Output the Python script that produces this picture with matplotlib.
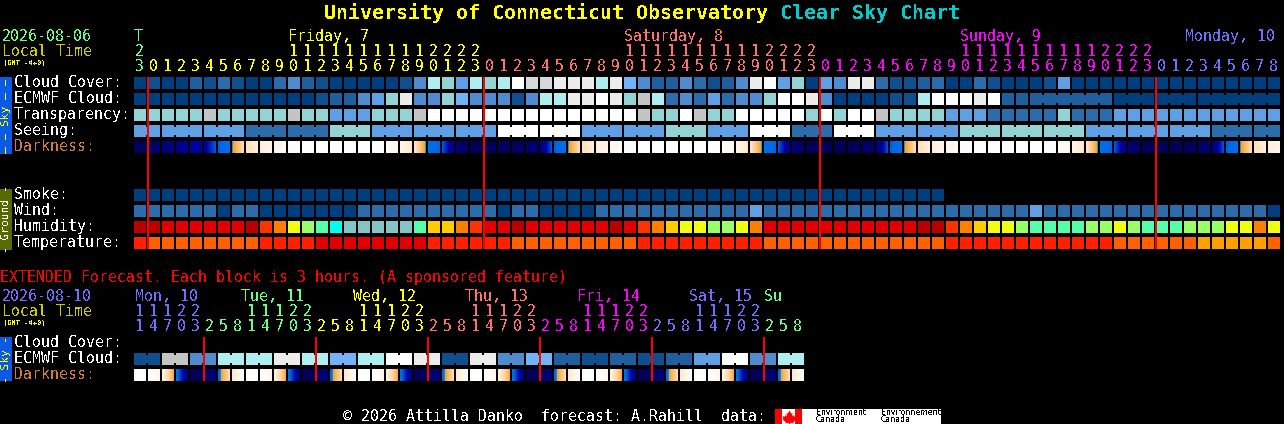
import matplotlib
matplotlib.use('Agg')
import matplotlib.pyplot as plt
from matplotlib.colors import LinearSegmentedColormap
from matplotlib.patches import Rectangle

plt.rcParams['font.family'] = ['DejaVu Sans Mono']
plt.rcParams['text.antialiased'] = False

# main forecast, one value per hour block
cloud = [0, 1, 0, 0, 2, 1, 3, 1, 0, 0, 3, 4, 2, 1, 0, 0, 0, 0, 0, 1, 4, 8,
         7, 5, 8, 7, 8, 12, 10, 10, 11, 11, 11, 8, 11, 6, 4, 2, 2, 4, 3, 1, 2, 4, 11, 12, 5, 7, 0, 5, 4, 11,
         11, 3, 1, 1, 2, 3, 0, 0, 3, 1, 0, 0, 0, 1, 5,
         0, 0, 0, 0, 0, 0, 0, 0, 0, 0, 0, 0, 0, 0, 0]
ecmwf = [0, 0, 0, 0, 0, 0, 0, 0, 0, 0, 0, 0, 0, 1, 2, 2, 4, 5, 7, 11, 4, 4,
         7, 6, 4, 4, 4, 1, 4, 8, 8, 11, 11, 12, 11, 7, 9, 8, 3, 4, 3, 5, 3, 4, 4, 7, 12, 12, 11, 4, 0, 0,
         0, 0, 1, 1, 8, 12, 12, 12, 11, 12, 2, 2,
         2, 2, 2, 2, 2, 2, 0, 0, 0, 0, 0, 0, 0, 0, 0, 0, 0, 0]
transparency = [7, 7, 7, 7, 7, 9, 7, 7, 7, 7, 7, 9, 7, 7, 5, 5, 5, 7, 7, 7, 9, 12,
                12, 12, 12, 12, 12, 12, 12, 12, 12, 12, 12, 12, 12, 12, 9, 7, 7, 12, 9, 7, 7, 12, 12, 12, 12, 12, 7, 12, 7, 12,
                12, 9, 7, 7, 7, 7, 5, 5, 5, 3, 3, 3, 3, 3, 7, 3, 3, 3,
                5, 5, 5, 5, 5, 5, 5, 5, 5, 5, 5, 5]
seeing = [5, 5, 5, 5, 5, 5, 5, 5, 3, 3, 3, 3, 3, 3, 7, 7, 7, 5, 5, 5, 5, 5, 5,
          5, 5, 5, 12, 12, 12, 12, 12, 12, 5, 5, 5, 5, 5, 5, 7, 7, 7, 5, 5, 5, 12, 12, 12, 3, 3, 3, 12, 12, 12,
          5, 5, 5, 5, 5, 5, 7, 7, 7, 7, 7, 7, 7, 7, 7, 5, 5, 5, 5, 5, 5, 5, 5, 5, 3, 3, 3, 3, 3]
smoke = [0] * 58
wind = [3, 3, 3, 3, 3, 3, 0, 3, 3, 0, 0, 0, 0, 0, 0, 0, 3, 3, 3, 3, 3, 3,
        3, 3, 3, 3, 0, 3, 3, 0, 0, 0, 0, 3, 3, 3, 3, 3, 3, 3, 3, 3, 3, 3, 5, 3, 3, 3, 3, 3, 3, 3,
        3, 3, 3, 3, 3, 3, 3, 3, 3, 3, 3, 3, 5, 3, 3, 3, 3, 3, 3, 3, 3, 3, 3, 3, 3, 3, 3, 3, 3, 0]
humidity = [0, 0, 1, 1, 1, 1, 1, 1, 0, 2, 3, 5, 6, 7, 8, 9, 9, 9, 9, 9, 7, 4,
            4, 3, 2, 1, 1, 0, 1, 1, 1, 1, 1, 1, 0, 1, 2, 3, 4, 5, 5, 6, 6, 5, 3, 1, 1, 1, 1, 1, 1, 1,
            1, 1, 1, 1, 0, 0, 2, 3, 4, 5, 5, 6, 7, 7, 7, 7, 6, 6, 5, 6, 7, 7, 7, 6, 6, 6, 5, 5, 3, 5]
temperature = [1, 2, 2, 2, 2, 2, 2, 2, 2, 1, 1, 1, 1, 0, 0, 0, 0, 0, 0, 0, 0, 1,
               1, 1, 1, 1, 1, 2, 2, 2, 2, 2, 2, 2, 2, 2, 1, 1, 1, 1, 1, 1, 1, 1, 1, 2, 2, 2, 2, 2, 2, 2,
               2, 2, 2, 2, 2, 2, 1, 1, 1, 1, 1, 1, 1, 1, 1, 1, 1, 1, 2, 2, 2, 2, 2, 2, 3, 3, 3, 3, 3, 2]
# darkness at block edges, 0 = daylight, 1 = darkest
darkness = [0.96, 0.94, 0.9, 0.84, 0.76, 0.76, 0.58, 0.5, 0.25, 0.15, 0.1, 0.05, 0, 0, 0, 0, 0, 0, 0.03, 0.1, 0.2, 0.5, 0.57, 0.85,
            0.96, 0.98, 0.97, 0.96, 0.93, 0.88, 0.58, 0.5, 0.25, 0.15, 0.1, 0.05, 0, 0, 0, 0, 0, 0, 0.03, 0.1, 0.2, 0.5, 0.57, 0.85,
            0.96, 0.98, 0.99, 0.97, 0.95, 0.92, 0.58, 0.5, 0.25, 0.15, 0.1, 0.05, 0, 0, 0, 0, 0, 0, 0.03, 0.1, 0.2, 0.5, 0.57, 0.85,
            0.96, 0.98, 0.98, 0.97, 0.95, 0.9, 0.58, 0.5, 0.25, 0.15, 0.1]

seeing_links = [(0, 1), (2, 4), (5, 7), (8, 10), (11, 13), (14, 16), (17, 19), (20, 22), (23, 25), (26, 28),
                (29, 31), (32, 34), (35, 37), (38, 40), (41, 43), (44, 46), (47, 49), (50, 52), (53, 55),
                (56, 58), (59, 61), (62, 64), (65, 67), (68, 70), (71, 73), (74, 76), (77, 79), (80, 81)]
ecmwf_links = [(64, 69), (70, 72), (73, 75), (76, 81)]

# extended forecast
ext_ecmwf = [1, 9, 4, 8, 8, 11, 8, 6, 8, 12, 11, 1, 11, 4, 6, 2, 1, 2, 1, 2, 5, 12, 4, 8]
ext_dark_start = [0, 0, 0.1, 0.5, 0.96, 0.92, 0.56, 0.2] * 6
ext_dark_end = [0, 0.1, 0.46, 0.86, 0.96, 0.88, 0.25, 0.03] * 6

# header labels
hours = [23] + list(range(24)) * 3 + list(range(9))
hour_days = [0] + [1] * 24 + [2] * 24 + [3] * 24 + [4] * 9
day_names = [('T', 0), ('Friday, 7', 11), ('Saturday, 8', 35), ('Sunday, 9', 59)]
ext_hours = [11, 14, 17, 20, 23] + [2, 5, 8, 11, 14, 17, 20, 23] * 5 + [2, 5, 8]
ext_days = [4] * 5 + [0] * 8 + [1] * 8 + [2] * 8 + [3] * 8 + [4] * 8 + [0] * 3
ext_names = [('Mon, 10', 135, 4), ('Tue, 11', 241, 0), ('Wed, 12', 353, 1), ('Thu, 13', 465, 2),
             ('Fri, 14', 577, 3), ('Sat, 15', 689, 4), ('Su', 764, 0)]

cloud_colors = ['#003f7f', '#0f4f8f', '#1f5f9f', '#2c6cab', '#4e8ccf', '#5f9fe3', '#72b2f8', '#93d3d3',
                '#aeeeee', '#c4c4c4', '#d8d8d8', '#ececec', '#ffffff']
humidity_colors = ['#b80000', '#e00000', '#ff3300', '#ff8000', '#ffcc00', '#eeff11', '#99ff66', '#55ffaa',
                   '#00ffee', '#84c4c4']
temp_colors = ['#e00000', '#ff2000', '#ff6000', '#ffa000']
day_colors = ['#66ff88', '#ffff00', '#ff7070', '#ff00ff', '#7070ff']
dark_cmap = LinearSegmentedColormap.from_list('dark', [
    (0, '#ffffff'), (0.1, '#fff6ea'), (0.25, '#ffe0b8'), (0.4, '#ffb860'), (0.47, '#ffa020'),
    (0.485, '#00b4f0'), (0.5, '#0070ec'), (0.56, '#0068e6'), (0.72, '#0000a8'), (0.85, '#000080'),
    (1, '#000050')], N=512)

LEFT = 134
PITCH = 14
SIZE = 12
MONO = 10.7
LEAF = [(0, 1), (0.25, 0.55), (0.45, 0.65), (0.35, 0.15), (0.6, 0.35), (0.7, 0.1), (1, 0.2), (0.9, -0.2), (1, -0.3),
        (0.55, -0.65), (0.6, -0.85), (0.08, -0.75), (0.08, -1), (-0.08, -1), (-0.08, -0.75), (-0.6, -0.85),
        (-0.55, -0.65), (-1, -0.3), (-0.9, -0.2), (-1, 0.2), (-0.7, 0.1), (-0.6, 0.35), (-0.35, 0.15), (-0.45, 0.65),
        (-0.25, 0.55)]


def block(ax, col, y, color):
    ax.add_patch(Rectangle((LEFT + col * PITCH, y), SIZE, SIZE, fc=color, lw=0, antialiased=False))


def row(ax, values, y, palette, links=()):
    for i, v in enumerate(values):
        block(ax, i, y, palette[v])
    for a, b in links:
        for i in range(a, b):
            ax.add_patch(Rectangle((LEFT + i * PITCH + SIZE, y + 2), PITCH - SIZE, SIZE - 4,
                                   fc=palette[values[i]], lw=0, antialiased=False))


def fade(ax, col, y, start, end):
    grad = [[start + (end - start) * (k + 0.5) / SIZE for k in range(SIZE)]]
    x = LEFT + col * PITCH
    ax.imshow(grad, cmap=dark_cmap, vmin=0, vmax=1, extent=(x, x + SIZE, y + SIZE, y),
              aspect='auto', interpolation='nearest', zorder=2)


def label(ax, x, y, s, color='white', size=MONO, **kw):
    # text sits a little high with va=center
    ax.text(x, y + 1.2, s, color=color, fontsize=size, va='center', ha=kw.pop('ha', 'left'), zorder=5, **kw)


fig = plt.figure(figsize=(12.84, 4.24), dpi=100, facecolor='black')
ax = fig.add_axes([0, 0, 1, 1])
ax.set_facecolor('black')
ax.set_axis_off()

# title
label(ax, 324, 12, 'University of Connecticut Observatory', '#ffff00', 14.4, fontweight='bold')
label(ax, 780, 12, 'Clear Sky Chart', '#00cccc', 14.4, fontweight='bold')

# main header
label(ax, 2, 35, '2026-08-06', day_colors[0])
label(ax, 2, 50, 'Local Time', '#cccc00')
label(ax, 3, 62, '(GMT -4+0)', '#ffff00', 5)
for name, col in day_names:
    label(ax, LEFT + col * PITCH, 35, name, day_colors[hour_days[col]])
label(ax, 1275, 35, 'Monday, 10', day_colors[4], ha='right')
for i, h in enumerate(hours):
    c = day_colors[hour_days[i]]
    x = LEFT + i * PITCH + 5.5
    label(ax, x, 65, str(h % 10), c, ha='center')
    if i == 0:
        label(ax, x, 50, '2', c, ha='center')
    elif h >= 10:
        label(ax, x, 50, str(h // 10), c, ha='center')

# main rows
row(ax, cloud, 77, cloud_colors)
row(ax, ecmwf, 93, cloud_colors, ecmwf_links)
row(ax, transparency, 109, cloud_colors)
row(ax, seeing, 125, cloud_colors, seeing_links)
for i in range(len(darkness) - 1):
    fade(ax, i, 141, darkness[i], darkness[i + 1])
row(ax, smoke, 189, cloud_colors)
row(ax, wind, 205, cloud_colors)
row(ax, humidity, 221, humidity_colors)
row(ax, temperature, 237, temp_colors)

for text, y, c in [('Cloud Cover:', 81.5, 'white'), ('ECMWF Cloud:', 97.5, 'white'), ('Transparency:', 113.5, 'white'),
                   ('Seeing:', 129.5, 'white'), ('Darkness:', 145.5, '#d07a3c'), ('Smoke:', 193.5, 'white'),
                   ('Wind:', 209.5, 'white'), ('Humidity:', 225.5, 'white'), ('Temperature:', 241.5, 'white'),
                   ('Cloud Cover:', 341.5, 'white'), ('ECMWF Cloud:', 357.5, 'white'), ('Darkness:', 373.5, '#d07a3c')]:
    label(ax, 14, y, text, c)

# midnight lines
for col in [1, 25, 49, 73]:
    x = LEFT + col * PITCH
    ax.add_patch(Rectangle((x - 1, 77), 2, 172, fc='#ff0000', lw=0, antialiased=False, zorder=4))
for col in [5, 13, 21, 29, 37, 45]:
    x = LEFT + col * PITCH
    ax.add_patch(Rectangle((x - 1, 337), 2, 44, fc='#ff0000', lw=0, antialiased=False, zorder=4))

# side bars
for y0, y1, fc, tc, s in [(77, 154, '#0a5ae8', '#ffff00', '\u2014 \u2014 Sky \u2014 \u2014'),
                          (189, 250, '#556b00', 'white', '- Ground -'),
                          (337, 381, '#0a5ae8', '#ffff00', '- Sky -')]:
    ax.add_patch(Rectangle((0, y0), 12, y1 - y0, fc=fc, lw=0, antialiased=False))
    ax.text(6, (y0 + y1) / 2, s, color=tc, fontsize=8, rotation=90, ha='center', va='center', zorder=5)

# extended forecast
label(ax, 0, 276, 'EXTENDED Forecast. Each block is 3 hours. (A sponsored feature)', '#ff0000')
label(ax, 2, 295, '2026-08-10', day_colors[4])
label(ax, 2, 310, 'Local Time', '#cccc00')
label(ax, 3, 322, '(GMT -4+0)', '#ffff00', 5)
for name, x, d in ext_names:
    label(ax, x, 295, name, day_colors[d])
for i, h in enumerate(ext_hours):
    c = day_colors[ext_days[i]]
    x = LEFT + i * PITCH + 5.5
    label(ax, x, 325, str(h % 10), c, ha='center')
    if h >= 10:
        label(ax, x, 310, str(h // 10), c, ha='center')
for i, v in enumerate(ext_ecmwf):
    block(ax, 2 * i, 353, cloud_colors[v])
    block(ax, 2 * i + 1, 353, cloud_colors[v])
    ax.add_patch(Rectangle((LEFT + (2 * i) * PITCH + SIZE, 355), PITCH - SIZE, SIZE - 4,
                           fc=cloud_colors[v], lw=0, antialiased=False))
for i in range(len(ext_dark_start)):
    fade(ax, i, 369, ext_dark_start[i], ext_dark_end[i])

# footer
label(ax, 343, 415, '\u00a9 2026 Attilla Danko  forecast: A.Rahill  data:')
ax.add_patch(Rectangle((775, 409), 166, 15, fc='white', lw=0, antialiased=False))
ax.add_patch(Rectangle((775, 409), 7, 15, fc='#ff0000', lw=0, antialiased=False))
ax.add_patch(Rectangle((795, 409), 7, 15, fc='#ff0000', lw=0, antialiased=False))
ax.plot([788.5], [416.5], marker=LEAF, ms=10, color='#ff0000', mew=0, zorder=5)
ax.text(816, 412.5, 'Environment', color='black', fontsize=5.6, family='DejaVu Sans', va='center', zorder=5)
ax.text(816, 420, 'Canada', color='black', fontsize=5.6, family='DejaVu Sans', va='center', zorder=5)
ax.text(881, 412.5, 'Environnement', color='black', fontsize=5.6, family='DejaVu Sans', va='center', zorder=5)
ax.text(881, 420, 'Canada', color='black', fontsize=5.6, family='DejaVu Sans', va='center', zorder=5)

ax.set_xlim(0, 1284)
ax.set_ylim(424, 0)
fig.savefig('out.png', dpi=100, facecolor='black')
